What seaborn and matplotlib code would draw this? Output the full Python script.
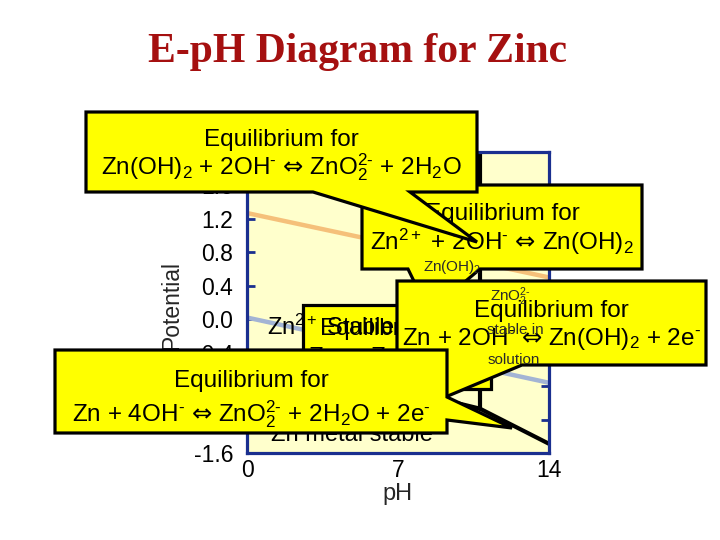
import numpy as np
import pandas as pd
import matplotlib
matplotlib.use("Agg")
import matplotlib.pyplot as plt
import seaborn as sns
from matplotlib.patches import Polygon

# ---------------- data ----------------
ph_water = [0, 14]
e_o2 = [1.27, 0.50]          # O2 / H2O line
e_h2 = [0.02, -0.76]         # H+ / H2 line

zn_ph = [0, 8.75, 10.8, 14]  # Zn metal boundary
zn_e = [-0.94, -0.94, -1.07, -1.49]
v_ph = [8.75, 10.8]          # vertical boundaries (Zn2+/Zn(OH)2, Zn(OH)2/ZnO2 2-)
v_e_low = [-0.94, -1.07]
e_top = 2.0

y_ticks = [-1.6, -1.2, -0.8, -0.4, 0.0, 0.4, 0.8, 1.2, 1.6, 2.0]
x_ticks = [0, 7, 14]
x_labels = ["0", "7", "14"]

ARROW = r"$\mathsf{⇔}$"
MINUS = r"$^{\text{-}}$"
title = "E-pH Diagram for Zinc"
eq_head = "Equilibrium for"
eq_A = r"Zn(OH)$_2$ + 2OH" + MINUS + " " + ARROW + r" ZnO$_2^{\text{2-}}$ + 2H$_2$O"
eq_B = r"Zn$^{2+}$ + 2OH" + MINUS + " " + ARROW + r" Zn(OH)$_2$"
eq_C = r"Zn + 2OH" + MINUS + " " + ARROW + r" Zn(OH)$_2$ + 2e" + MINUS
eq_D = (r"Zn + 4OH" + MINUS + " " + ARROW + r" ZnO$_2^{\text{2-}}$ + 2H$_2$O + 2e"
        + MINUS)
eq_E = r"Zn " + ARROW + r" Zn$^{2+}$ + 2e" + MINUS

# ---------------- style ----------------
sns.set_theme(style="white")
plt.rcParams["font.family"] = ["Liberation Sans", "DejaVu Sans"]
plt.rcParams.update({
    "mathtext.fontset": "custom",
    "mathtext.rm": "Liberation Sans",
    "mathtext.it": "Liberation Sans",
    "mathtext.bf": "Liberation Sans:bold",
    "mathtext.sf": "DejaVu Sans",
    "mathtext.fallback": "stixsans",
    "axes.unicode_minus": False,
})

NAVY = "#1A2F8F"
fig = plt.figure(figsize=(7.2, 5.4), dpi=100)
fig.patch.set_facecolor("white")

ax = fig.add_axes([247 / 720, 1 - 453 / 540, 302 / 720, 301 / 540])
ax.set_zorder(1)
ax.set_facecolor("#FFFFCC")

water = pd.DataFrame({"pH": ph_water * 2, "E": e_o2 + e_h2,
                      "line": ["O2"] * 2 + ["H2"] * 2})
sns.lineplot(data=water[water.line == "O2"], x="pH", y="E", ax=ax,
             color="#F5C07A", linewidth=3.2, estimator=None, sort=False)
sns.lineplot(data=water[water.line == "H2"], x="pH", y="E", ax=ax,
             color="#A3B4D4", linewidth=3.2, estimator=None, sort=False)

seg_ph, seg_e, seg_id = list(zn_ph), list(zn_e), ["zn"] * len(zn_ph)
for i, (p, lo) in enumerate(zip(v_ph, v_e_low)):
    seg_ph += [p, p]
    seg_e += [lo, e_top]
    seg_id += [f"v{i}", f"v{i}"]
bounds = pd.DataFrame({"pH": seg_ph, "E": seg_e, "seg": seg_id})
sns.lineplot(data=bounds, x="pH", y="E", units="seg", estimator=None,
             sort=False, ax=ax, color="black", linewidth=3.0)

ax.set_xlim(0, 14)
ax.set_ylim(-1.6, 2.0)
ax.set_yticks(y_ticks)
ax.set_yticklabels([f"{v:.1f}" for v in y_ticks])
ax.set_xticks(x_ticks)
ax.set_xticklabels(x_labels)
ax.set_xlabel("")
ax.set_ylabel("")
ax.grid(False)
for sp in ax.spines.values():
    sp.set_visible(True)
    sp.set_color(NAVY)
    sp.set_linewidth(2.3)
ax.tick_params(axis="y", direction="in", length=6, width=2, color=NAVY,
               left=True, right=True, labelsize=16.5, pad=10, labelcolor="black")
ax.tick_params(axis="x", direction="in", length=0, labelsize=16.5, pad=4,
               labelcolor="black")
ax.text(0.5, (453 - 494) / 301, "pH", transform=ax.transAxes, ha="center",
        va="center", fontsize=17, clip_on=False)
ax.text((172 - 247) / 302, (453 - 306) / 301, "Potential", transform=ax.transAxes,
        rotation=90, ha="center", va="center", fontsize=16.5, clip_on=False)

fig.text(357 / 720, 1 - 62 / 540, title, ha="center", va="baseline",
         fontsize=30, fontweight="bold", family="Liberation Serif",
         color="#A51010")

# ---------------- overlay with callouts ----------------
ov = fig.add_axes([0, 0, 1, 1])
ov.set_zorder(10)
ov.set_xlim(0, 720)
ov.set_ylim(540, 0)
ov.axis("off")

YEL = "#FFFF00"


def callout(rect, wedge, lines, z):
    x0, y0, x1, y1 = rect
    side, a, tip, b = wedge
    if side == "bottom":
        pts = [(x0, y0), (x1, y0), (x1, y1), (b, y1), tip, (a, y1), (x0, y1)]
    elif side == "right":
        pts = [(x0, y0), (x1, y0), (x1, a), tip, (x1, b), (x1, y1), (x0, y1)]
    else:
        pts = [(x0, y0), (x1, y0), (x1, y1), (x0, y1)]
    ov.add_patch(Polygon(pts, closed=True, facecolor=YEL, edgecolor="black",
                         linewidth=2.3, joinstyle="miter", zorder=z))
    cx = (x0 + x1) / 2
    for s, yb in lines:
        ov.text(cx, yb, s, ha="center", va="baseline", fontsize=17.5,
                color="black", zorder=z + 0.5)


# E (mostly hidden)
callout((303, 305, 491, 389), ("none", 0, (0, 0), 0),
        [(eq_head, 335), (eq_E, 365)], 1)
# B
callout((362, 185, 642, 269), ("bottom", 408, (429, 312), 480),
        [(eq_head, 220), (eq_B, 250)], 2)
# A
callout((86, 112, 477, 192), ("bottom", 313, (477, 242), 410),
        [(eq_head, 146), (eq_A, 174)], 3)
# C
callout((397, 281, 706, 365), ("bottom", 420, (400, 416), 522),
        [(eq_head, 317), (eq_C, 345)], 4)

# diagram region labels
lab = dict(color="#2a2a2a", fontsize=11, ha="center", va="center", zorder=4.6)
ov.text(452, 267, r"Zn(OH)$_2$", **lab)
ov.text(510, 297, r"ZnO$_2^{\text{2-}}$", **lab)
ov.text(515, 330, "stable in", **lab)
ov.text(514, 360, "solution", **lab)
ov.text(267, 335, r"Zn$^{2+}$ Stable", ha="left", va="baseline", fontsize=17,
        color="black", zorder=4.6)
ov.text(352, 441, "Zn metal stable", ha="center", va="baseline", fontsize=17,
        color="black", zorder=4.6)

# D
callout((55, 350, 447, 433), ("right", 397, (512, 428), 420),
        [(eq_head, 387), (eq_D, 421)], 6)

fig.savefig("out.png", dpi=100)
